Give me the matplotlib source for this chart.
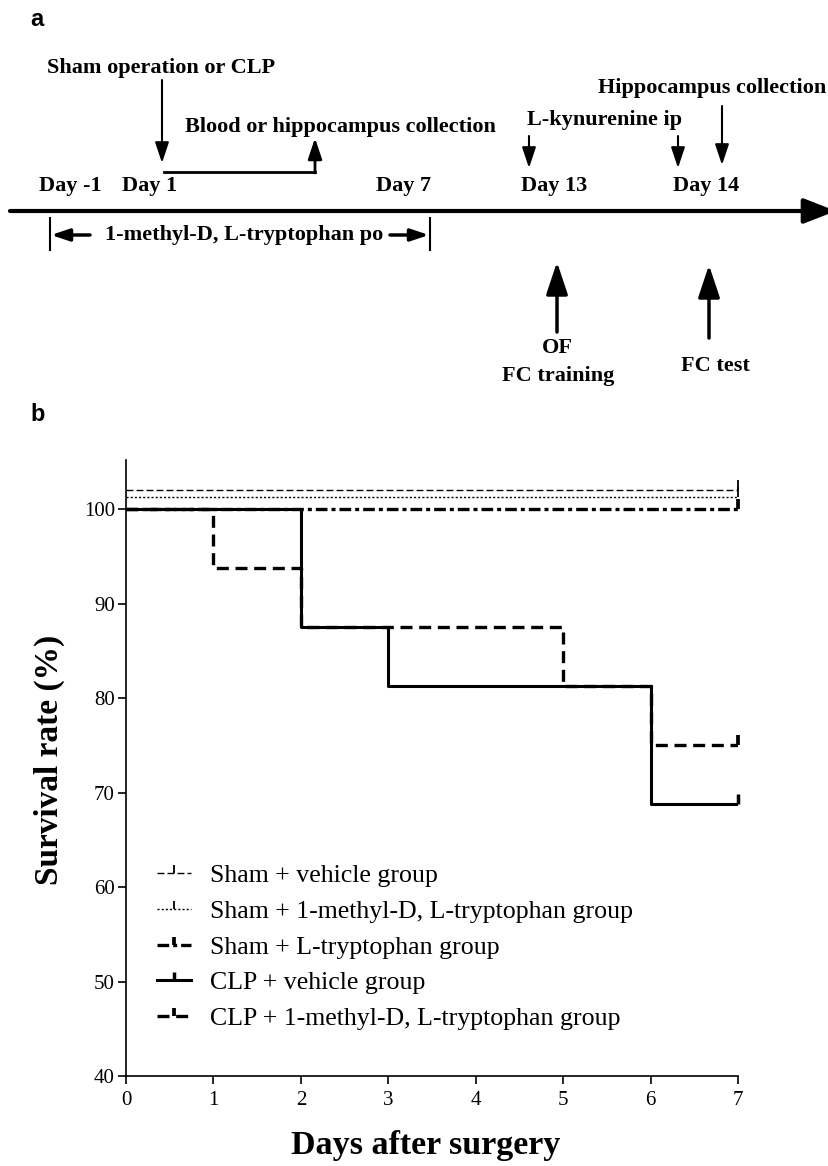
import matplotlib.pyplot as plt
from matplotlib.lines import Line2D

# ---- panel b data ----
clp_vehicle_days = [0, 2, 3, 6, 7]
clp_vehicle_surv = [100, 87.5, 81.25, 68.75, 68.75]
clp_mt_days = [0, 1, 2, 5, 6, 7]
clp_mt_surv = [100, 93.75, 87.5, 81.25, 75, 75]
sham_days = [0, 7]
# sham curves are all 100 %, drawn slightly offset in the original
sham_vehicle_surv = [102, 102]
sham_mt_surv = [101.3, 101.3]
sham_trp_surv = [100, 100]

legend_labels = [
    "Sham + vehicle group",
    "Sham + 1-methyl-D, L-tryptophan group",
    "Sham + L-tryptophan group",
    "CLP + vehicle group",
    "CLP + 1-methyl-D, L-tryptophan group",
]
x_ticks = [0, 1, 2, 3, 4, 5, 6, 7]
y_ticks = [40, 50, 60, 70, 80, 90, 100]

# ---- panel a timeline (pixel layout of the scheme) ----
day_labels = ["Day -1", "Day 1", "Day 7", "Day 13", "Day 14"]
day_x = [70, 150, 404, 554, 706]

SERIF = "Liberation Serif"
plt.rcParams['font.family'] = SERIF

fig = plt.figure(figsize=(8.29, 11.66), dpi=100)

# panel a: an axes in pixel coordinates
axa = fig.add_axes([0, 1 - 390 / 1166, 1, 390 / 1166])
axa.set_xlim(0, 829)
axa.set_ylim(390, 0)
axa.axis('off')


def arrow(x0, y0, x1, y1, lw=1.5, scale=14):
    axa.annotate("", xy=(x1, y1), xytext=(x0, y0),
                 arrowprops=dict(arrowstyle="-|>,head_length=0.9,head_width=0.3",
                                 lw=lw, color="black", mutation_scale=scale,
                                 shrinkA=0, shrinkB=0),
                 annotation_clip=False)


tkw = dict(fontsize=16, fontweight='bold', va='center')
axa.text(47, 68, "Sham operation or CLP", ha='left', **tkw)
arrow(162, 80, 162, 163)
axa.plot([164, 315], [172, 172], color='black', lw=2)
arrow(315, 173, 315, 138, lw=2)
axa.text(185, 127, "Blood or hippocampus collection", ha='left', **tkw)
axa.text(527, 120, "L-kynurenine ip", ha='left', **tkw)
arrow(529, 136, 529, 168)
arrow(678, 136, 678, 168)
axa.text(598, 88, "Hippocampus collection", ha='left', **tkw)
arrow(722, 106, 722, 165)
for lab, x in zip(day_labels, day_x):
    axa.text(x, 186, lab, ha='center', **tkw)

# main timeline
axa.annotate("", xy=(836, 211), xytext=(10, 211),
             arrowprops=dict(arrowstyle="-|>,head_length=0.9,head_width=0.35",
                             lw=3, color="black", mutation_scale=22,
                             shrinkA=0, shrinkB=0),
             annotation_clip=False)

# treatment bracket
axa.plot([50, 50], [218, 250], color='black', lw=1.5)
axa.plot([430, 430], [218, 250], color='black', lw=1.5)
arrow(90, 235, 51, 235, lw=2.5, scale=12)
arrow(390, 235, 429, 235, lw=2.5, scale=12)
axa.text(105, 235, "1-methyl-D, L-tryptophan po", ha='left', **tkw)

# behavioural tests
arrow(557, 332, 557, 262, lw=2.5, scale=22)
arrow(709, 338, 709, 265, lw=2.5, scale=22)
axa.text(557, 348, "OF", ha='center', **tkw)
axa.text(558, 376, "FC training", ha='center', **tkw)
axa.text(715, 366, "FC test", ha='center', **tkw)

fig.text(30 / 829, 1 - 20 / 1166, "a", fontsize=17, fontweight='bold',
         family='Liberation Sans', ha='left', va='center')
fig.text(30 / 829, 1 - 414 / 1166, "b", fontsize=17, fontweight='bold',
         family='Liberation Sans', ha='left', va='center')

# panel b: survival curves
ax = fig.add_axes([126 / 829, 1 - 1076 / 1166, 612 / 829, 616 / 1166])

styles = [
    dict(lw=1.0, ls=(0, (5, 2.2))),
    dict(lw=1.0, ls=(0, (1.5, 1.5))),
    dict(lw=2.4, ls=(0, (3.5, 1.2, 1.2, 1.2))),
    dict(lw=2.2, ls='-'),
    dict(lw=2.4, ls=(0, (3.6, 2.0))),
]
series = [
    (sham_days, sham_vehicle_surv),
    (sham_days, sham_mt_surv),
    (sham_days, sham_trp_surv),
    (clp_vehicle_days, clp_vehicle_surv),
    (clp_mt_days, clp_mt_surv),
]
zorders = [3, 3, 3, 5, 4]

handles = []
for (d, s), st, z, lab in zip(series, styles, zorders, legend_labels):
    ax.plot(d, s, drawstyle='steps-post', color='black', zorder=z, **st)
    # censor tick at the end of follow-up
    ax.plot([d[-1]], [s[-1]], marker=2, ms=7, mew=st['lw'] + 0.3,
            color='black', ls='none', zorder=z, clip_on=False)
    handles.append(Line2D([], [], color='black', marker=2, ms=6,
                          mew=st['lw'] + 0.3, **st))

ax.set_xlim(0, 7)
ax.set_ylim(40, 105.2)
ax.set_xticks(x_ticks)
ax.set_yticks(y_ticks)
for sp in ['top', 'right']:
    ax.spines[sp].set_visible(False)
for sp in ['left', 'bottom']:
    ax.spines[sp].set_linewidth(1.2)
ax.tick_params(direction='out', length=6, width=1.2, labelsize=15)
ax.tick_params(axis='x', pad=5)
ax.tick_params(axis='y', pad=2)

ax.set_xlabel("Days after surgery", fontsize=24.5, fontweight='bold')
ax.xaxis.set_label_coords(0.49, -0.087)
ax.set_ylabel("Survival rate (%)", fontsize=24, fontweight='bold')
ax.yaxis.set_label_coords(-0.1, 0.513)

ax.legend(handles, legend_labels, loc='upper left', frameon=False,
          bbox_to_anchor=(157 / 829, 1 - 864 / 1166),
          bbox_transform=fig.transFigure, fontsize=18.6, numpoints=1,
          handlelength=1.3, handletextpad=0.75, labelspacing=0.49,
          borderaxespad=0, borderpad=0)

fig.savefig("out.png", dpi=100)
